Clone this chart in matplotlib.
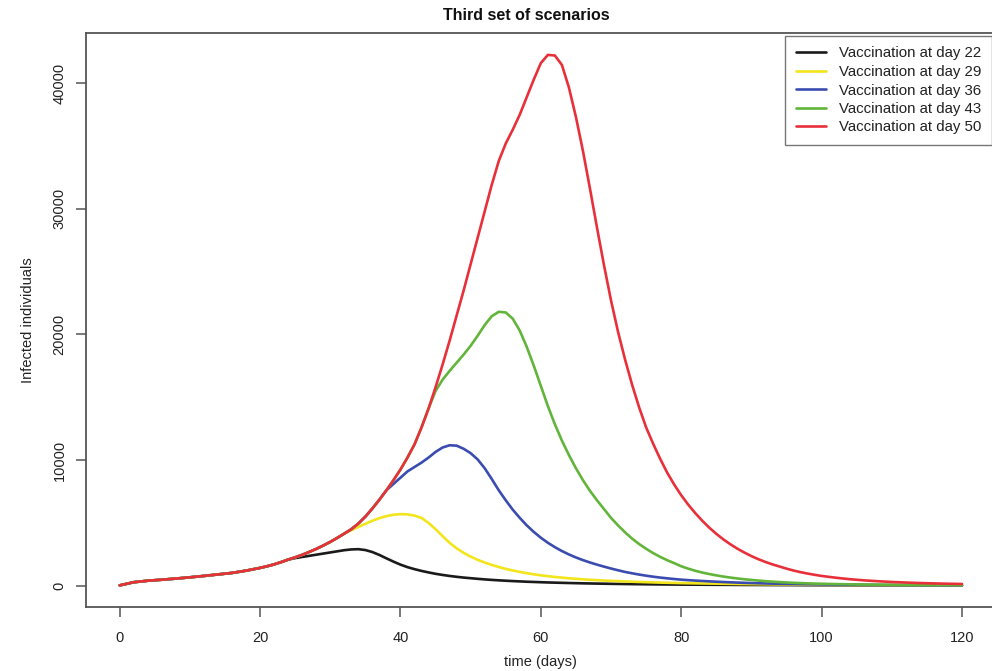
import matplotlib
matplotlib.use("Agg")
import matplotlib.pyplot as plt

plt.rcParams['font.family'] = ['Liberation Sans', 'DejaVu Sans']

# time grid (days): every 2 days to day 20, daily to day 100, every 2 days after
days = list(range(0, 21, 2)) + list(range(21, 101)) + list(range(102, 121, 2))

# vaccination at day 50 (also the common early growth for all scenarios)
red = ([30, 280, 400, 480, 570, 670, 780, 900, 1020, 1200, 1420]
       + [1550, 1700, 1880, 2080, 2260, 2460, 2690, 2930, 3200, 3490]
       + [3810, 4150, 4500, 4950, 5500, 6150, 6850, 7600, 8400, 9250]
       + [10200, 11250, 12600, 14100, 15800, 17600, 19500, 21500, 23500, 25600]
       + [27700, 29800, 31900, 33800, 35200, 36300, 37500, 38900, 40300, 41600]
       + [42250, 42200, 41450, 39650, 37300, 34600, 31600, 28500, 25500, 22700]
       + [20200, 18000, 16000, 14200, 12600, 11300, 10100, 9000, 8050, 7200]
       + [6450, 5780, 5170, 4620, 4130, 3690, 3300, 2950, 2640, 2360]
       + [2110, 1890, 1700, 1530, 1360, 1210, 1080, 970, 870, 780]
       + [640, 520, 430, 360, 300, 255, 215, 185, 160, 140])

# vaccination at day 22: leaves the common curve after day 24
black = (red[:15]
         + [2200, 2290, 2380, 2470, 2560, 2650]
         + [2740, 2830, 2890, 2910, 2840, 2680, 2450, 2180, 1920, 1680]
         + [1480, 1320, 1180, 1060, 950, 860, 780, 710, 650, 600]
         + [550, 505, 465, 430, 400, 370, 345, 320, 300, 280]
         + [262, 246, 231, 217, 204, 192, 181, 171, 161, 152]
         + [144, 136, 129, 122, 116, 110, 105, 100, 95, 90]
         + [87, 84, 81, 78, 75, 72, 69, 66, 63, 60]
         + [58, 56, 54, 52, 50, 48, 46, 44, 42, 40]
         + [38, 36, 34, 32, 30, 29, 28, 27, 26, 25])

# vaccination at day 29: leaves after day 32
yellow = (red[:23]
          + [4420, 4680, 4930, 5170, 5380, 5540, 5650, 5700]
          + [5680, 5580, 5400, 5000, 4500, 3950, 3420, 2980, 2620, 2320]
          + [2060, 1850, 1660, 1490, 1340, 1210, 1100, 1000, 910, 830]
          + [760, 700, 645, 595, 550, 510, 475, 445, 415, 390]
          + [365, 342, 320, 300, 282, 266, 250, 236, 223, 210]
          + [200, 191, 182, 173, 165, 157, 150, 142, 135, 128]
          + [122, 116, 110, 105, 100, 95, 90, 86, 82, 78]
          + [71, 65, 60, 55, 50, 46, 42, 39, 36, 33])

# vaccination at day 36: leaves after day 38
blue = (red[:29]
        + [8100, 8600]
        + [9100, 9450, 9800, 10200, 10650, 11000, 11180, 11150, 10900, 10550]
        + [10050, 9350, 8500, 7600, 6800, 6050, 5400, 4800, 4280, 3820]
        + [3420, 3070, 2760, 2490, 2250, 2040, 1850, 1680, 1520, 1370]
        + [1230, 1100, 990, 890, 800, 720, 650, 590, 535, 485]
        + [445, 410, 378, 348, 320, 295, 272, 251, 232, 214]
        + [198, 183, 170, 158, 147, 137, 128, 119, 111, 104]
        + [91, 80, 71, 63, 56, 50, 45, 41, 37, 34])

# vaccination at day 43: leaves after day 44
green = (red[:35]
         + [15500, 16400, 17100, 17750, 18400, 19100]
         + [19900, 20750, 21450, 21800, 21750, 21250, 20300, 19000, 17500, 15900]
         + [14300, 12850, 11550, 10400, 9350, 8400, 7550, 6800, 6100, 5400]
         + [4800, 4250, 3750, 3320, 2940, 2600, 2300, 2030, 1800, 1550]
         + [1360, 1190, 1050, 930, 825, 730, 650, 580, 515, 460]
         + [410, 365, 325, 290, 260, 233, 210, 190, 172, 156]
         + [132, 112, 96, 83, 72, 64, 57, 51, 46, 42])

series = [black, yellow, blue, green, red]
labels = ['Vaccination at day 22', 'Vaccination at day 29', 'Vaccination at day 36',
          'Vaccination at day 43', 'Vaccination at day 50']
colors = ['#1a1a1a', '#f2e51c', '#3b4cb0', '#62b53a', '#e8303a']

W, H = 992, 671
fig = plt.figure(figsize=(W / 100, H / 100), dpi=100)
ax = fig.add_axes([86 / W, 1 - 607 / H, (995.7 - 86) / W, (607 - 33) / H])

for vals, lab, col in zip(series, labels, colors):
    ax.plot(days, vals, color=col, lw=1.9, label=lab, solid_capstyle='round',
            solid_joinstyle='round')

ax.set_xlim(-4.8, 124.8)
ax.set_ylim(-1692, 43992)
ax.set_xticks([0, 20, 40, 60, 80, 100, 120])
ax.set_yticks([0, 10000, 20000, 30000, 40000])
ax.set_yticklabels(['0', '10000', '20000', '30000', '40000'], rotation=90, va='center')

frame_col = '#555555'
for s in ax.spines.values():
    s.set_color(frame_col)
    s.set_linewidth(1.3)
ax.tick_params(direction='out', length=7, width=1.1, color=frame_col,
               labelsize=10.5, labelcolor='#222222')
ax.tick_params(axis='x', pad=10)
ax.tick_params(axis='y', pad=7)

fig.text(526 / W, 1 - 15 / H, 'Third set of scenarios', ha='center', va='center',
         fontsize=11.5, fontweight='bold', color='#111111')
fig.text(540 / W, 1 - 662 / H, 'time (days)', ha='center', va='center',
         fontsize=10.5, color='#222222')
fig.text(28 / W, 1 - 320 / H, 'Infected individuals', ha='center', va='center',
         rotation=90, fontsize=10.5, color='#222222')

leg = ax.legend(loc='upper left', bbox_to_anchor=((785 - 86) / 909.7, (607 - 36) / 574),
                borderaxespad=0, fancybox=False, frameon=True, fontsize=10.8,
                handlelength=2.0, handletextpad=0.9, labelspacing=0.3,
                borderpad=0.7)
leg.get_frame().set_edgecolor('#555555')
leg.get_frame().set_linewidth(1.0)
for t in leg.get_texts():
    t.set_color('#222222')

fig.savefig('out.png', dpi=100)
